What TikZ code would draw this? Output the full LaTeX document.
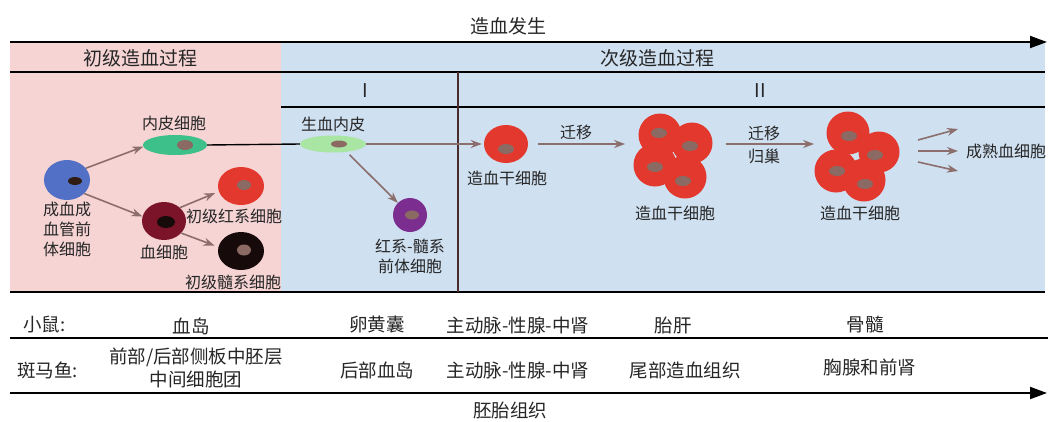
\documentclass[tikz,border=0pt]{standalone}
\usepackage{fontspec}
\setmainfont{Noto Sans CJK SC}
\usetikzlibrary{arrows.meta,shapes.geometric,fit}

\definecolor{pinkbg}{HTML}{F6D4D4}
\definecolor{bluebg}{HTML}{CFE0F1}
\definecolor{txt}{HTML}{262626}
\definecolor{arrowc}{HTML}{8C6E6C}
\definecolor{nucbrown}{HTML}{8A6A62}
\definecolor{cellblue}{HTML}{5270C6}
\definecolor{cellgreen}{HTML}{3EC08A}
\definecolor{lightgreen}{HTML}{A9E5A3}
\definecolor{maroon}{HTML}{7B1428}
\definecolor{cellred}{HTML}{E3382D}
\definecolor{cellblack}{HTML}{160A0A}
\definecolor{cellpurple}{HTML}{7B2E8F}
\definecolor{divider}{HTML}{4A2C2C}

\begin{document}
\begin{tikzpicture}[x=1pt,y=-1pt,
  cell/.style={ellipse,inner sep=0pt,draw=none},
  ball/.style={circle,inner sep=0pt,draw=none,fill=cellred},
  nuc/.style={ellipse,inner sep=0pt,draw=none,fill=nucbrown},
  lbl/.style={font=\fontsize{16}{20}\selectfont,text=txt,align=center,inner sep=0pt},
  head/.style={font=\fontsize{19}{23}\selectfont,text=txt,inner sep=0pt},
  tbl/.style={font=\fontsize{18.5}{23}\selectfont,text=txt,align=center,inner sep=0pt},
  arr/.style={draw=arrowc,line width=1.6pt,-{Stealth[length=11pt,width=8pt]}},
  axis/.style={draw=black,line width=2pt,-{Triangle[length=17pt,width=12pt]}},
  rule/.style={draw=black,line width=1.8pt}]

\useasboundingbox (0,0) rectangle (1048,421);

% background bands
\fill[pinkbg] (10,42) rectangle (281,292);
\fill[bluebg] (281,42) rectangle (1045,292);

% time axis and header rules
\draw[axis] (10,42) -- (1047,42);
\draw[rule] (10,72) -- (1045,72);
\draw[rule] (281,107) -- (1045,107);
\draw[rule] (10,292) -- (1045,292);
\draw[draw=divider,line width=1.8pt] (458,72) -- (458,292);

\node[head] (title) at (508,26) {造血发生};
\node[head] (primary) at (140,58) {初级造血过程};
\node[head] (secondary) at (657,58) {次级造血过程};
\node[head] (stageI) at (365,91) {I};
\node[head] (stageII) at (760,91) {II};

% primary wave cells
\node[cell,fill=cellblue,minimum width=46pt,minimum height=40pt] (hemang) at (67,180) {};
\node[nuc,fill=cellblack!85!brown,minimum width=14pt,minimum height=8pt] (hemangn) at (75,181) {};
\node[lbl] (hemangl) at (67,229) {成血成\\血管前\\体细胞};

\node[cell,fill=cellgreen,minimum width=64pt,minimum height=20pt] (endo) at (175,145) {};
\node[nuc,minimum width=16pt,minimum height=10pt] (endon) at (185,145) {};
\node[lbl] (endol) at (174,123) {内皮细胞};

\node[cell,fill=maroon,minimum width=44pt,minimum height=38pt] (blood) at (164,221) {};
\node[nuc,fill=cellblack,minimum width=18pt,minimum height=12pt] (bloodn) at (166,222) {};
\node[lbl] (bloodl) at (164,252) {血细胞};

\node[cell,fill=cellred,minimum width=46pt,minimum height=38pt] (ery) at (241,186) {};
\node[nuc,minimum width=14pt,minimum height=10pt] (eryn) at (244,185) {};
\node[lbl] (eryl) at (234,216) {初级红系细胞};

\node[cell,fill=cellblack,minimum width=46pt,minimum height=38pt] (myel) at (241,251) {};
\node[nuc,minimum width=14pt,minimum height=11pt] (myeln) at (244,250) {};
\node[lbl] (myell) at (233,282) {初级髓系细胞};

% hemogenic endothelium and EMP
\node[cell,fill=lightgreen,minimum width=66pt,minimum height=17pt] (hemo) at (333,144) {};
\node[nuc,minimum width=16pt,minimum height=7pt] (hemon) at (339,144) {};
\node[lbl] (hemol) at (333,124) {生血内皮};

\node[cell,fill=cellpurple,minimum width=34pt,minimum height=34pt] (emp) at (410,215) {};
\node[nuc,minimum width=14pt,minimum height=9pt] (empn) at (412,215) {};
\node[lbl] (empl) at (410,256) {红系-髓系\\前体细胞};

% hematopoietic stem cells
\node[cell,fill=cellred,minimum width=44pt,minimum height=38pt] (hsc) at (506,144) {};
\node[nuc,minimum width=16pt,minimum height=10pt] (hscn) at (506,149) {};
\node[lbl] (hscl) at (507,178) {造血干细胞};

\node[ball,minimum size=43pt] (ca) at (660,135) {};
\node[ball,minimum size=41pt] (cb) at (692,143) {};
\node[ball,minimum size=43pt] (cc) at (655,165) {};
\node[ball,minimum size=43pt] (cd) at (685,177) {};
\node[nuc,minimum width=16pt,minimum height=10pt] (can) at (659,133) {};
\node[nuc,minimum width=16pt,minimum height=10pt] (cbn) at (690,146) {};
\node[nuc,minimum width=16pt,minimum height=10pt] (ccn) at (655,167) {};
\node[nuc,minimum width=16pt,minimum height=10pt] (cdn) at (683,181) {};
\node[inner sep=0pt,fit=(ca)(cb)(cc)(cd)] (liver) {};
\node[lbl] (liverl) at (675,213) {造血干细胞};

\node[ball,minimum size=43pt] (ma) at (848,133) {};
\node[ball,minimum size=41pt] (mb) at (879,152) {};
\node[ball,minimum size=43pt] (mc) at (836,171) {};
\node[ball,minimum size=43pt] (md) at (864,180) {};
\node[nuc,minimum width=16pt,minimum height=10pt] (man) at (849,136) {};
\node[nuc,minimum width=16pt,minimum height=10pt] (mbn) at (875,155) {};
\node[nuc,minimum width=16pt,minimum height=10pt] (mcn) at (837,171) {};
\node[nuc,minimum width=16pt,minimum height=10pt] (mdn) at (865,184) {};
\node[inner sep=0pt,fit=(ma)(mb)(mc)(md)] (marrow) {};
\node[lbl] (marrowl) at (860,213) {造血干细胞};

\node[lbl,anchor=west] (mature) at (966,151) {成熟血细胞};

% connectors
\draw[arr] (hemang.32) -- (endo.183);
\draw[arr] (hemang.-38) -- (blood.168);
\draw[arr,shorten >=4pt] (blood.40) -- (ery.194);
\draw[arr,shorten >=4pt] (blood.-35) -- (myel.170);
\draw[draw=black,line width=1.4pt] (endo.east) -- (hemo.west);
\draw[arr,shorten >=2pt] (hemo.east) -- (hsc.west);
\draw[arr,shorten <=4pt] (hemo.-30) -- (emp);
\draw[arr,shorten <=10pt,shorten >=8pt] (hsc.east) -- (hsc.east -| liver.west);
\node[lbl] (mig1) at (576,132) {迁移};
\draw[arr,shorten <=13pt] (liver.east |- hsc.east) -- (marrow.west |- hsc.east);
\node[lbl] (mig2) at (764,133) {迁移};
\node[lbl] (home) at (764,156) {归巢};

\coordinate (o1) at (918,140);
\coordinate (o2) at (918,151);
\coordinate (o3) at (918,162);
\coordinate (t1) at (958,129);
\coordinate (t2) at (958,151);
\coordinate (t3) at (958,171);
\draw[arr] (o1) -- (t1);
\draw[arr] (o2) -- (t2);
\draw[arr] (o3) -- (t3);

% tissue table
\node[tbl,anchor=west] (mouse) at (23,325) {小鼠:};
\node[tbl] (m1) at (191,326) {血岛};
\node[tbl] (m2) at (377,325) {卵黄囊};
\node[tbl] (m3) at (518,325) {主动脉-性腺-中肾};
\node[tbl] (m4) at (673,325) {胎肝};
\node[tbl] (m5) at (865,324) {骨髓};
\draw[rule] (10,338) -- (1048,338);

\node[tbl,anchor=west] (fish) at (17,370) {斑马鱼:};
\node[tbl] (z1) at (196,368) {前部/后部侧板中胚层\\中间细胞团};
\node[tbl] (z2) at (377,370) {后部血岛};
\node[tbl] (z3) at (518,370) {主动脉-性腺-中肾};
\node[tbl] (z4) at (685,370) {尾部造血组织};
\node[tbl] (z5) at (870,367) {胸腺和前肾};

\draw[axis] (10,393) -- (1047,393);
\node[tbl] (tissue) at (510,410) {胚胎组织};
\end{tikzpicture}
\end{document}
